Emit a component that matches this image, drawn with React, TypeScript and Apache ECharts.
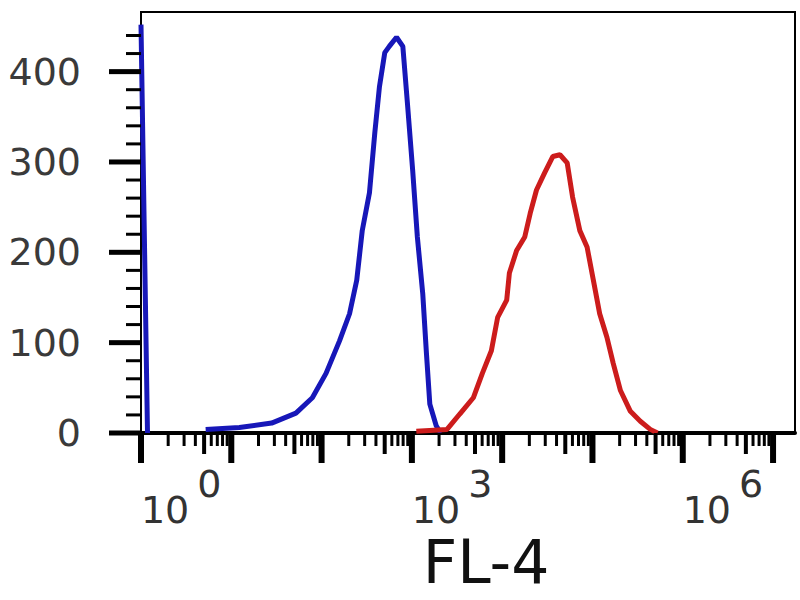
import React, { useEffect, useRef } from 'react';
import * as echarts from 'echarts';

// FL-4 intensity (x) and event count (y) for the two histograms
const blueFL4 = [0.1, 0.118, 0.3, 0.52, 1.23, 2.8, 5.2, 7.9, 11.2, 15.8, 20.4, 24.5, 28.2, 33.9, 38.9, 43.7, 50.1, 56.2, 67.6, 79.4, 89.1, 102, 115, 132, 145, 158, 186, 209];
const blueCounts: (number | null)[] = [452, 0, null, 4, 6, 11, 22, 39, 66, 102, 132, 169, 224, 266, 333, 383, 421, 428, 438, 428, 366, 291, 217, 154, 88, 32, 8, 0];

const redFL4 = [112, 245, 339, 479, 603, 759, 891, 1122, 1202, 1445, 1778, 2042, 2399, 2951, 3631, 4365, 5248, 6026, 7244, 8710, 10233, 12023, 14454, 16982, 20417, 26303, 33884, 43652, 52481];
const redCounts = [2, 4, 21, 39, 66, 91, 128, 147, 177, 202, 217, 243, 269, 288, 306, 308, 299, 261, 224, 206, 169, 132, 106, 77, 47, 24, 13, 4, 0];

const X_MIN = 0.1;
const X_MAX = 1.75e6;
const Y_MAX = 466;

const xDecades = [-1, 0, 1, 2, 3, 4, 5, 6];
const xMinorSteps = [2, 3, 4, 6, 7, 8, 9];
const xMidStep = 5;
const xLabelExponents = [0, 3, 6];

const yMajorTicks = [0, 100, 200, 300, 400];
const yMinorTicks = [20, 40, 60, 80, 120, 140, 160, 180, 220, 240, 260, 280, 320, 340, 360, 380, 420, 440];

const FONT = 'DejaVu Sans';
const TICK_FONT_SIZE = 38;

const App: React.FC = () => {
  const chartRef = useRef<HTMLDivElement>(null);

  useEffect(() => {
    if (!chartRef.current) return;
    const chart = echarts.init(chartRef.current, undefined, { renderer: 'svg' });

    const inRange = (v: number) => v >= X_MIN && v <= X_MAX;
    const xMajor = xDecades.map(d => Math.pow(10, d)).filter(inRange);
    const xMid = xDecades.map(d => xMidStep * Math.pow(10, d)).filter(inRange);
    const xMinor = xDecades.flatMap(d => xMinorSteps.map(k => k * Math.pow(10, d))).filter(inRange);

    const customSeries = (data: number[][], draw: (p: number[], v: number) => any) => ({
      type: 'custom',
      silent: true,
      clip: false,
      z: 5,
      data,
      renderItem: (_params: any, api: any) => {
        const v = api.value(0);
        return draw(api.coord([v, api.value(1)]), v);
      },
    });

    const xTick = (w: number, h: number) => (p: number[]) => ({
      type: 'rect',
      shape: { x: p[0] - w / 2, y: p[1], width: w, height: h },
      style: { fill: '#000' },
    });
    const yTick = (w: number, h: number) => (p: number[]) => ({
      type: 'rect',
      shape: { x: p[0] - w, y: p[1] - h / 2, width: w, height: h },
      style: { fill: '#000' },
    });

    // "10" with a raised exponent, set a little left of its decade tick
    const decadeLabel = (p: number[], v: number) => ({
      type: 'group',
      children: [
        {
          type: 'text',
          x: p[0] - 42,
          y: p[1] + 77,
          style: { text: '10', fontFamily: FONT, fontSize: TICK_FONT_SIZE, fill: '#333', align: 'right', verticalAlign: 'middle' },
        },
        {
          type: 'text',
          x: p[0] - 34,
          y: p[1] + 51,
          style: {
            text: String(Math.round(Math.log10(v))),
            fontFamily: FONT,
            fontSize: TICK_FONT_SIZE,
            fill: '#333',
            align: 'left',
            verticalAlign: 'middle',
          },
        },
      ],
    });

    const option: echarts.EChartsOption = {
      animation: false,
      backgroundColor: '#fff',
      grid: {
        left: 141,
        right: 5,
        top: 12,
        bottom: 167,
        show: true,
        borderColor: '#000',
        borderWidth: 2,
        backgroundColor: '#fff',
      },
      xAxis: {
        type: 'log',
        logBase: 10,
        min: X_MIN,
        max: X_MAX,
        axisLine: { show: true, lineStyle: { color: '#000', width: 4 } },
        axisTick: { show: false },
        axisLabel: { show: false },
        splitLine: { show: false },
        name: 'FL-4',
        nameLocation: 'middle',
        nameGap: 99,
        nameTextStyle: { fontFamily: FONT, fontSize: 60, color: '#111', padding: [0, 0, 0, 36] },
      },
      yAxis: {
        type: 'value',
        min: 0,
        max: Y_MAX,
        axisLine: { show: true, lineStyle: { color: '#000', width: 2 } },
        axisTick: { show: false },
        splitLine: { show: false },
        axisLabel: {
          customValues: yMajorTicks,
          margin: 60,
          fontFamily: FONT,
          fontSize: TICK_FONT_SIZE,
          color: '#3a3a3a',
        },
      },
      series: [
        {
          type: 'line',
          data: blueFL4.map((x, i) => [x, blueCounts[i] === null ? '-' : blueCounts[i]]),
          showSymbol: false,
          connectNulls: false,
          lineStyle: { color: '#1717b8', width: 5 },
          z: 3,
        },
        {
          type: 'line',
          data: redFL4.map((x, i) => [x, redCounts[i]]),
          showSymbol: false,
          lineStyle: { color: '#cc1c1c', width: 5 },
          z: 3,
        },
        customSeries(xMajor.map(v => [v, 0]), xTick(6, 30)),
        customSeries(xMid.map(v => [v, 0]), xTick(4, 21)),
        customSeries(xMinor.map(v => [v, 0]), xTick(3, 13)),
        customSeries(yMajorTicks.map(v => [X_MIN, v]), yTick(32, 5)),
        customSeries(yMinorTicks.map(v => [X_MIN, v]), yTick(15, 3)),
        customSeries(xLabelExponents.map(e => [Math.pow(10, e), 0]), decadeLabel),
      ] as any,
    };

    chart.setOption(option);
    return () => chart.dispose();
  }, []);

  return (
    <div
      ref={chartRef}
      style={{ position: 'fixed', left: 0, top: 0, width: 800, height: 600 }}
    />
  );
};

export default App;
